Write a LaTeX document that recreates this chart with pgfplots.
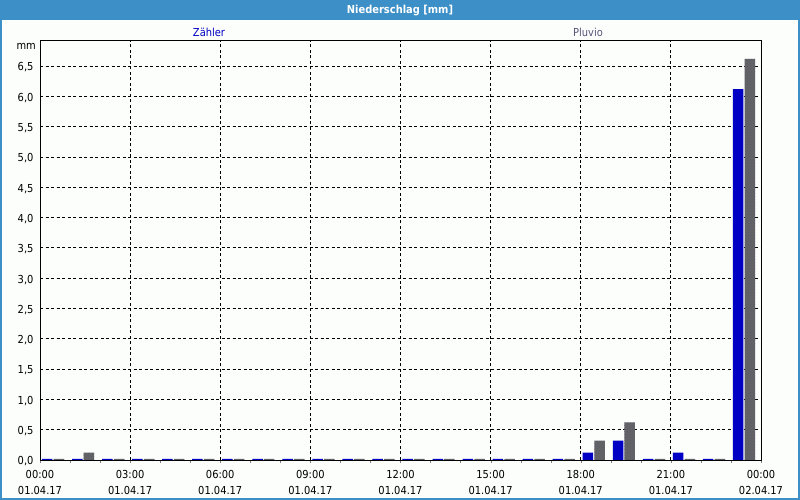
\documentclass[border=0pt]{standalone}
\usepackage{fontspec}
\setmainfont{DejaVu Sans Condensed}
\usepackage{pgfplots}
\pgfplotsset{compat=1.18}
\usetikzlibrary{patterns}
\definecolor{titlebar}{HTML}{3C8FC7}
\definecolor{zblue}{HTML}{0000C4}
\definecolor{pgray}{HTML}{646464}
\definecolor{bg}{HTML}{FCFEFC}
\definecolor{pluvio}{HTML}{55557A}
\begin{document}
\begin{tikzpicture}[x=1bp,y=1bp]
\path[use as bounding box] (0,0) rectangle (800,500);
\fill[bg] (0,0) rectangle (800,500);
\fill[titlebar] (0,479.5) rectangle (800,500);
\draw[titlebar, line width=2bp] (1,500) -- (1,1) -- (799,1) -- (799,500);
\node[text=white, font=\fontsize{11bp}{13bp}\selectfont\bfseries] at (400,489.5) {Niederschlag [mm]};
\node[text=zblue, font=\fontsize{11bp}{13bp}\selectfont] at (209,468) {Zähler};
\node[text=pluvio, font=\fontsize{11bp}{13bp}\selectfont] at (588,468) {Pluvio};
\node[font=\fontsize{11bp}{13bp}\selectfont, anchor=east, inner sep=0pt] at (36,454) {mm};
\begin{axis}[
  at={(40bp,40bp)}, anchor=south west,
  scale only axis, width=721bp, height=420bp,
  xmin=0, xmax=24, ymin=0, ymax=6.93,
  axis line style={line width=0.9bp, black},
  xtick={0,3,...,24},
  xticklabels={{00:00\\01.04.17},{03:00\\01.04.17},{06:00\\01.04.17},{09:00\\01.04.17},{12:00\\01.04.17},{15:00\\01.04.17},{18:00\\01.04.17},{21:00\\01.04.17},{00:00\\02.04.17}},
  minor x tick num=2,
  ytick={0,0.5,...,6.5},
  tick pos=left,
  tick align=outside,
  major tick length=3bp, minor tick length=3bp,
  ytick style={draw=none},
  xmajorgrids, ymajorgrids,
  major grid style={black, line width=0.8bp, dash pattern=on 3bp off 2.5bp},
  tick label style={font=\fontsize{11bp}{15.5bp}\selectfont, text=black},
  xticklabel style={align=center, yshift=-4bp},
  yticklabel style={yshift=-1.5bp, /pgf/number format/.cd, fixed, fixed zerofill, precision=1, use comma, assume math mode=true},
  every axis plot/.append style={ybar, bar width=10.5bp, draw=none},
]
\addplot[fill=zblue, bar shift=-7.8bp] coordinates {
(0.5,0.02) (1.5,0.02) (2.5,0.02) (3.5,0.02) (4.5,0.02) (5.5,0.02) (6.5,0.02) (7.5,0.02)
(8.5,0.02) (9.5,0.02) (10.5,0.02) (11.5,0.02) (12.5,0.02) (13.5,0.02) (14.5,0.02) (15.5,0.02)
(16.5,0.02) (17.5,0.02) (18.5,0.12) (19.5,0.32) (20.5,0.02) (21.5,0.12) (22.5,0.02) (23.5,6.12)};
\addplot[fill=pgray, bar shift=3.9bp, postaction={pattern=crosshatch dots, pattern color=pluvio}] coordinates {
(0.5,0.02) (1.5,0.12) (2.5,0.02) (3.5,0.02) (4.5,0.02) (5.5,0.02) (6.5,0.02) (7.5,0.02)
(8.5,0.02) (9.5,0.02) (10.5,0.02) (11.5,0.02) (12.5,0.02) (13.5,0.02) (14.5,0.02) (15.5,0.02)
(16.5,0.02) (17.5,0.02) (18.5,0.32) (19.5,0.62) (20.5,0.02) (21.5,0.02) (22.5,0.02) (23.5,6.62)};
\end{axis}
\end{tikzpicture}
\end{document}
